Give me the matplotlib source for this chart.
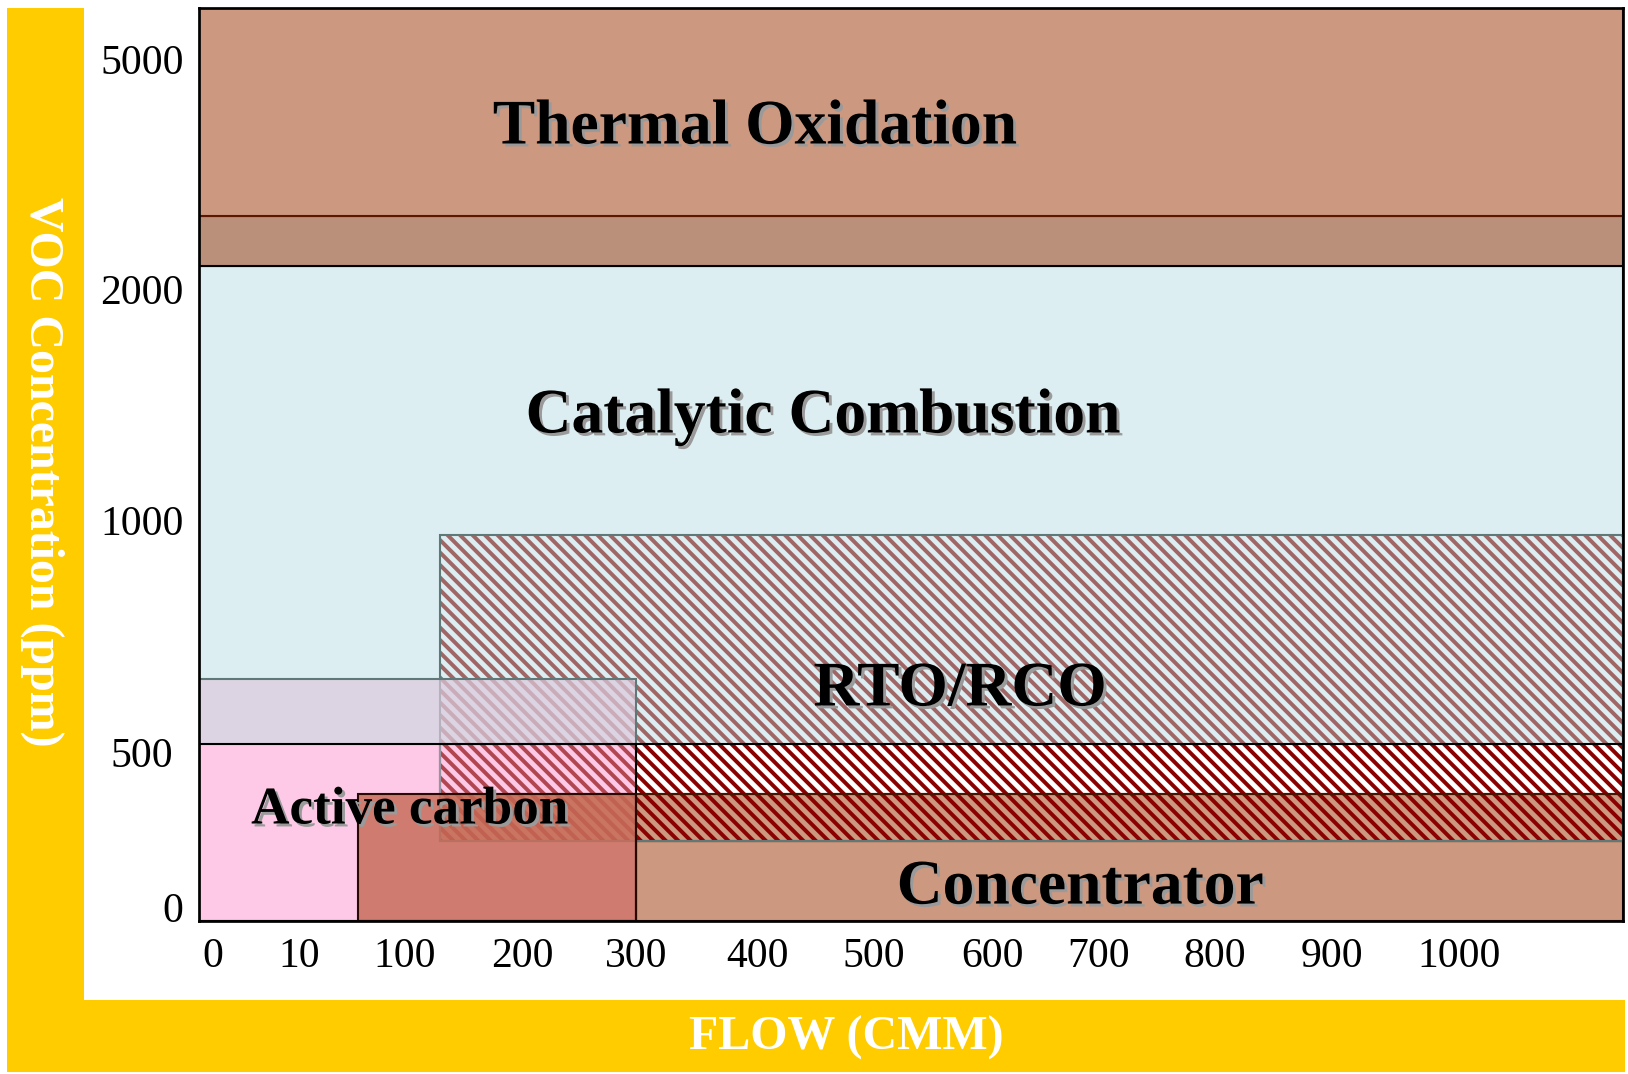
import numpy as np
import matplotlib.pyplot as plt
from matplotlib.patches import Rectangle
from matplotlib.transforms import blended_transform_factory, ScaledTranslation
import matplotlib.patheffects as pe

plt.rcParams['font.family'] = ['Liberation Serif', 'DejaVu Serif']
plt.rcParams['hatch.linewidth'] = 1.9

# --- axis tick values ---
flow_ticks = [0, 10, 100, 200, 300, 400, 500, 600, 700, 800, 900, 1000]   # CMM
ppm_ticks = [0, 500, 1000, 2000, 5000]                                     # ppm
FLOW_MAX = 1140
PPM_MAX = 5560

# --- operating envelopes: (flow_lo, flow_hi, ppm_lo, ppm_hi) ---
catalytic = (0, FLOW_MAX, 0, 2200)
thermal_low = (0, FLOW_MAX, 2200, 2850)
thermal = (0, FLOW_MAX, 2850, PPM_MAX)
concentrator = (300, FLOW_MAX, 0, 225)
rto_upper = (130, FLOW_MAX, 500, 950)
rto_mid = (130, FLOW_MAX, 360, 500)
rto_mid_open = (300, FLOW_MAX, 360, 500)
rto_low = (130, FLOW_MAX, 225, 360)
rto_box = (130, FLOW_MAX, 225, 950)
carbon_top = (0, 300, 500, 640)
carbon = (0, 300, 0, 500)
carbon_box = (0, 300, 0, 640)
conc_carbon = (60, 300, 0, 360)

# --- hand-drawn, non-uniform axis layout (value -> distance from origin, px) ---
flow_knots = [0, 10, 100, 200, 300, 400, 500, 600, 700, 800, 900, 1000, 1200]
flow_px = [0, 100, 206, 323, 437, 558, 675, 793, 899, 1016, 1133, 1260, 1494]
ppm_knots = [0, 500, 1000, 2000, 5000, 6000]
ppm_px = [0, 177, 409, 640, 870, 947]


def fwd_x(v):
    return np.interp(v, flow_knots, flow_px)


def inv_x(p):
    return np.interp(p, flow_px, flow_knots)


def fwd_y(v):
    return np.interp(v, ppm_knots, ppm_px)


def inv_y(p):
    return np.interp(p, ppm_px, ppm_knots)


W, H = 1628, 1074
DPI = 150
fig = plt.figure(figsize=(W / DPI, H / DPI), dpi=DPI)
fig.patch.set_facecolor('white')

# yellow L-shaped frame behind the axis titles
gold = '#FFCC00'
fig.add_artist(Rectangle((7 / W, 2 / H), 77 / W, 1064 / H,
                         transform=fig.transFigure, fc=gold, ec='none'))
fig.add_artist(Rectangle((7 / W, 2 / H), 1618 / W, 72 / H,
                         transform=fig.transFigure, fc=gold, ec='none'))

ax = fig.add_axes([199 / W, (H - 921) / H, 1424 / W, 913 / H])
ax.set_xscale('function', functions=(fwd_x, inv_x))
ax.set_yscale('function', functions=(fwd_y, inv_y))
ax.set_xlim(0, FLOW_MAX)
ax.set_ylim(0, PPM_MAX)
ax.set_xticks([])
ax.set_yticks([])
ax.minorticks_off()
for sp in ax.spines.values():
    sp.set_linewidth(1.3)
    sp.set_zorder(20)


def box(r, **kw):
    x0, x1, y0, y1 = r
    p = Rectangle((x0, y0), x1 - x0, y1 - y0, **kw)
    ax.add_patch(p)
    return p


LW = 1.0
HATCH = '\\\\\\\\'
box(catalytic, fc='#DCEEF1', ec='black', lw=LW)
box(thermal_low, fc='#BA907A', ec='black', lw=LW)
box(thermal, fc='#CD9880', ec='#5A1800', lw=LW)
box(concentrator, fc='#CD9880', ec='#4A1500', lw=LW)
box(carbon, fc='#FDC9E6', ec='none')

# RTO/RCO hatched bands
box(rto_upper, fill=False, hatch=HATCH, ec='#A06666', lw=0)
box(rto_mid_open, fc='white', ec='none')
box(rto_mid, fill=False, hatch=HATCH, ec='#8B0000', lw=0)
box(rto_low, fc='#CD9880', hatch=HATCH, ec='#8B0000', lw=0)
box(rto_mid, fill=False, ec='black', lw=LW)
box(rto_low, fill=False, ec='#4A1500', lw=LW)
box(rto_box, fill=False, ec='#5F7878', lw=LW)

# active carbon / concentrator overlays
box(carbon_top, fc='#DDCADD', ec='none', alpha=0.7)
box(carbon, fc='#FDC9E6', ec='none', alpha=0.35)
box(conc_carbon, fc='#C46852', ec='none', alpha=0.8)
box(carbon_box, fill=False, ec='#5F7878', lw=LW)
box(carbon, fill=False, ec='black', lw=LW)
box(conc_carbon, fill=False, ec='#2A0A00', lw=LW)

# tick labels
tick_kw = dict(fontsize=20, color='black', ha='center', va='center')
xtrans = blended_transform_factory(ax.transData, ax.transAxes)
for v in flow_ticks:
    dx = 14 if v == 0 else 0
    ax.text(v, -0.0394, str(v), clip_on=False,
            transform=xtrans + ScaledTranslation(dx / DPI, 0, fig.dpi_scale_trans),
            **tick_kw)
ytrans = blended_transform_factory(ax.transAxes, ax.transData)
for v in ppm_ticks:
    if v == 0:
        xf, dy = -26 / 1424, 9
    else:
        xf, dy = -57 / 1424, -13
    ax.text(xf, v, str(v), clip_on=False,
            transform=ytrans + ScaledTranslation(0, dy / DPI, fig.dpi_scale_trans),
            **tick_kw)

# region names with drop shadow
shadow = [pe.SimplePatchShadow(offset=(1.4, -1.4), shadow_rgbFace='#9a9a9a', alpha=1.0),
          pe.Normal()]
labels = [
    ('Thermal Oxidation', 0.3904, 0.868, 30.5),
    ('Catalytic Combustion', 0.438, 0.5515, 30.5),
    ('RTO/RCO', 0.5344, 0.2525, 30.5),
    ('Active carbon', 0.148, 0.121, 25.5),
    ('Concentrator', 0.6187, 0.0355, 30.5),
]
for txt, x, y, fs in labels:
    ax.text(x, y, txt, transform=ax.transAxes, ha='center', va='center',
            fontsize=fs, fontweight='bold', color='black', zorder=30,
            path_effects=shadow)

fig.text(42 / W, 1 - 472 / H, 'VOC Concentration (ppm)', rotation=270,
         ha='center', va='center', fontsize=23, fontweight='bold', color='white')
fig.text(846 / W, 1 - 1038 / H, 'FLOW (CMM)', ha='center', va='center',
         fontsize=23, fontweight='bold', color='white')

fig.savefig('out.png', dpi=DPI)
